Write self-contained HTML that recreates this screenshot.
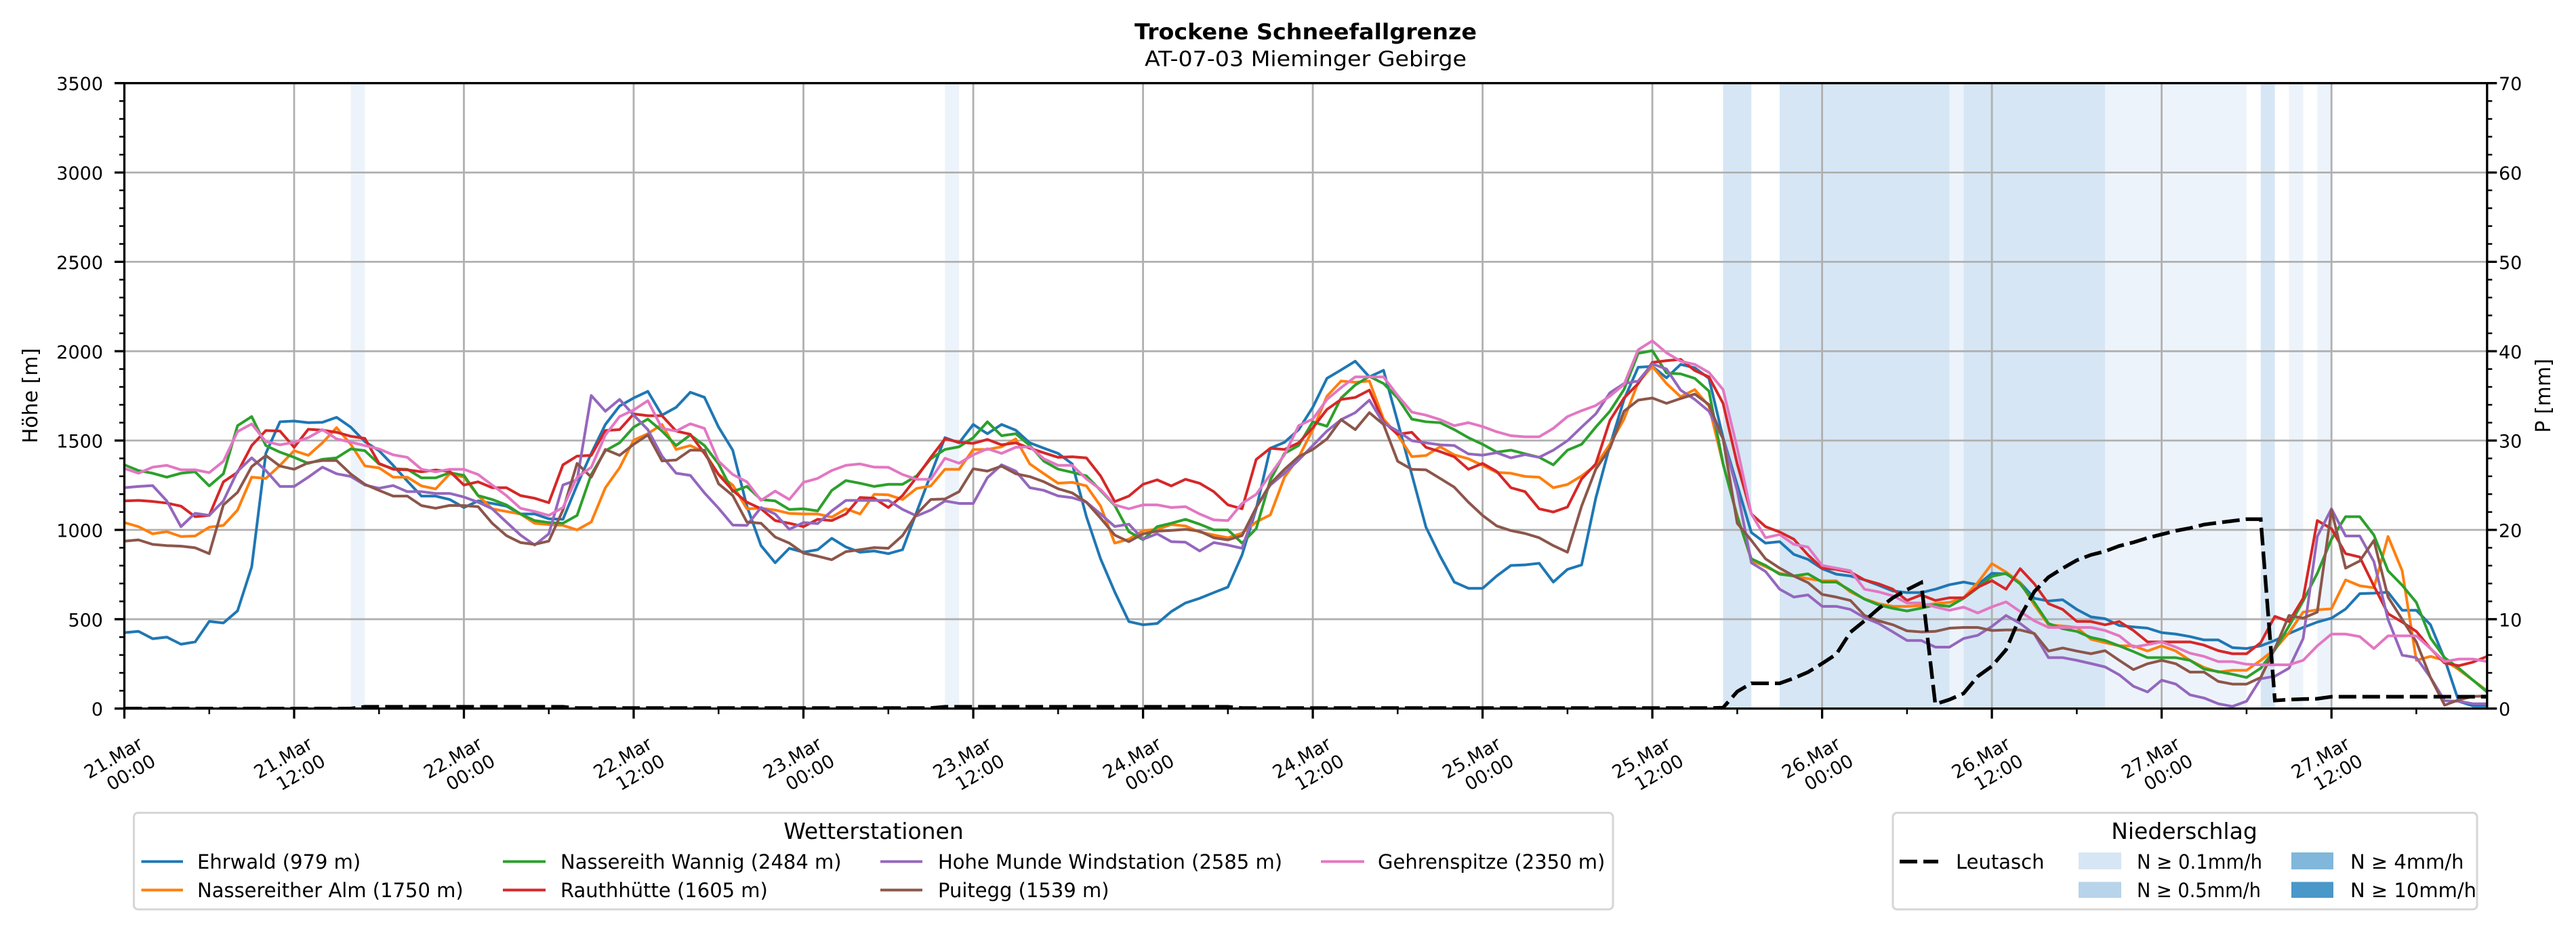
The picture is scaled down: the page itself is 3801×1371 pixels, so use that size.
<!DOCTYPE html>
<html><head><meta charset="utf-8"><style>
html,body{margin:0;padding:0;background:#fff;}
svg{display:block;font-family:"DejaVu Sans","Liberation Sans",sans-serif;}
</style></head><body>
<svg width="3801" height="1371" viewBox="0 0 3801 1371" xmlns="http://www.w3.org/2000/svg">
<rect x="0" y="0" width="3801" height="1371" fill="#fff"/>
<defs><clipPath id="cp"><rect x="183.5" y="122.7" width="3486.3" height="923"/></clipPath></defs>

<!-- precipitation bands -->
<g fill="#edf3fb">
<rect x="517.5" y="122.7" width="20.9" height="923"/>
<rect x="1394.3" y="122.7" width="20.9" height="923"/>
<rect x="2876.5" y="122.7" width="20.9" height="923"/>
<rect x="3106.1" y="122.7" width="208.8" height="923"/>
<rect x="3377.5" y="122.7" width="20.9" height="923"/>
<rect x="3419.3" y="122.7" width="20.9" height="923"/>
</g>
<g fill="#d6e6f4">
<rect x="2542.5" y="122.7" width="41.7" height="923"/>
<rect x="2626.0" y="122.7" width="250.5" height="923"/>
<rect x="2897.4" y="122.7" width="208.7" height="923"/>
<rect x="3335.8" y="122.7" width="20.9" height="923"/>
</g>

<!-- grid -->
<g stroke="#b0b0b0" stroke-width="2.8" fill="none">
<path d="M183.5 913.8H3669.8M183.5 782.0H3669.8M183.5 650.1H3669.8M183.5 518.3H3669.8M183.5 386.4H3669.8M183.5 254.6H3669.8"/>
<path d="M434.0 122.7V1045.7M684.5 122.7V1045.7M935.0 122.7V1045.7M1185.5 122.7V1045.7M1436.1 122.7V1045.7M1686.6 122.7V1045.7M1937.1 122.7V1045.7M2187.6 122.7V1045.7M2438.1 122.7V1045.7M2688.6 122.7V1045.7M2939.1 122.7V1045.7M3189.6 122.7V1045.7M3440.2 122.7V1045.7"/>
</g>

<!-- series -->
<g clip-path="url(#cp)">
<g transform="translate(183.5,1045.7) scale(20.876,-0.263714)" fill="none" stroke-width="4" stroke-linejoin="round" stroke-linecap="square">
<polyline vector-effect="non-scaling-stroke" stroke="#1f77b4" points="0,425 1,432 2,391 3,400 4,360 5,373 6,488 7,479 8,547 9,793 10,1428 11,1605 12,1609 13,1600 14,1602 15,1630 16,1575 17,1494 18,1443 19,1361 20,1273 21,1189 22,1189 23,1170 24,1125 25,1162 26,1148 27,1133 28,1089 29,1089 30,1062 31,1059 32,1251 33,1428 34,1590 35,1693 36,1738 37,1775 38,1642 39,1686 40,1770 41,1742 42,1575 43,1446 44,1133 45,912 46,816 47,897 48,875 49,889 50,953 51,904 52,875 53,882 54,867 55,889 56,1100 57,1310 58,1516 59,1487 60,1590 61,1538 62,1590 63,1558 64,1487 65,1457 66,1428 67,1369 68,1074 69,838 70,653 71,487 72,469 73,476 74,543 75,591 76,617 77,649 78,680 79,860 80,1118 81,1457 82,1490 83,1561 84,1686 85,1848 86,1895 87,1944 88,1856 89,1893 90,1605 91,1310 92,1015 93,853 94,708 95,673 96,673 97,742 98,801 99,804 100,813 101,708 102,779 103,804 104,1177 105,1472 106,1730 107,1910 108,1915 109,1851 110,1926 111,1907 112,1848 113,1516 114,1251 115,985 116,926 117,934 118,863 119,835 120,783 121,752 122,742 123,720 124,690 125,658 126,649 127,649 128,668 129,693 130,708 131,693 132,757 133,754 134,705 135,617 136,602 137,609 138,555 139,513 140,503 141,465 142,457 143,450 144,425 145,417 146,403 147,384 148,384 149,341 150,336 151,351 152,381 153,420 154,454 155,484 156,506 157,557 158,643 159,646 160,651 161,550 162,550 163,469 164,277 165,40 166,15 167,15"/>
<polyline vector-effect="non-scaling-stroke" stroke="#ff7f0e" points="0,1041 1,1018 2,978 3,990 4,963 5,966 6,1015 7,1025 8,1111 9,1295 10,1288 11,1361 12,1443 13,1417 14,1487 15,1572 16,1479 17,1358 18,1347 19,1295 20,1295 21,1246 22,1229 23,1314 24,1295 25,1192 26,1118 27,1103 28,1089 29,1037 30,1030 31,1025 32,1000 33,1044 34,1236 35,1347 36,1502 37,1538 38,1590 39,1450 40,1472 41,1435 42,1310 43,1251 44,1118 45,1121 46,1111 47,1092 48,1089 49,1089 50,1071 51,1118 52,1089 53,1199 54,1196 55,1170 56,1232 57,1246 58,1339 59,1339 60,1450 61,1450 62,1465 63,1509 64,1369 65,1314 66,1261 67,1266 68,1246 69,1133 70,926 71,948 72,996 73,1003 74,1030 75,1022 76,988 77,971 78,956 79,982 80,1044 81,1084 82,1295 83,1406 84,1561 85,1748 86,1833 87,1826 88,1833 89,1620 90,1531 91,1410 92,1416 93,1465 94,1420 95,1398 96,1361 97,1322 98,1317 99,1299 100,1295 101,1236 102,1254 103,1302 104,1361 105,1479 106,1620 107,1826 108,1915 109,1819 110,1745 111,1785 112,1693 113,1369 114,1080 115,830 116,794 117,757 118,742 119,727 120,715 121,715 122,653 123,614 124,587 125,572 126,572 127,577 128,587 129,594 130,620 131,705 132,811 133,764 134,705 135,580 136,469 137,462 138,454 139,388 140,369 141,351 142,351 143,322 144,351 145,322 146,270 147,230 148,204 149,214 150,214 151,270 152,332 153,425 154,540 155,553 156,558 157,720 158,687 159,676 160,963 161,771 162,270 163,292 164,270 165,218 166,159 167,100"/>
<polyline vector-effect="non-scaling-stroke" stroke="#2ca02c" points="0,1364 1,1332 2,1317 3,1295 4,1317 5,1325 6,1246 7,1314 8,1583 9,1634 10,1472 11,1435 12,1406 13,1372 14,1395 15,1403 16,1453 17,1443 18,1369 19,1342 20,1339 21,1291 22,1291 23,1320 24,1305 25,1192 26,1170 27,1140 28,1089 29,1052 30,1041 31,1037 32,1081 33,1310 34,1443 35,1487 36,1575 37,1620 38,1553 39,1472 40,1531 41,1472 42,1369 43,1214 44,1243 45,1170 46,1162 47,1114 48,1118 49,1106 50,1221 51,1276 52,1261 53,1243 54,1255 55,1255 56,1302 57,1398 58,1450 59,1465 60,1516 61,1605 62,1527 63,1538 64,1472 65,1384 66,1340 67,1322 68,1302 69,1221 70,1137 71,990 72,945 73,1018 74,1037 75,1059 76,1032 77,1000 78,1000 79,926 80,1007 81,1280 82,1428 83,1472 84,1605 85,1580 86,1738 87,1811 88,1859 89,1819 90,1738 91,1620 92,1605 93,1600 94,1561 95,1516 96,1479 97,1435 98,1446 99,1426 100,1406 101,1364 102,1446 103,1479 104,1575 105,1664 106,1786 107,1988 108,2003 109,1878 110,1873 111,1848 112,1777 113,1369 114,1074 115,838 116,801 117,752 118,742 119,754 120,708 121,708 122,661 123,612 124,580 125,561 126,546 127,562 128,580 129,572 130,617 131,676 132,740 133,757 134,698 135,594 136,476 137,447 138,432 139,398 140,381 141,351 142,319 143,285 144,285 145,285 146,270 147,221 148,207 149,192 150,174 151,226 152,329 153,462 154,602 155,757 156,948 157,1074 158,1074 159,971 160,771 161,690 162,594 163,395 164,285 165,226 166,159 167,93"/>
<polyline vector-effect="non-scaling-stroke" stroke="#d62728" points="0,1162 1,1165 2,1159 3,1150 4,1133 5,1074 6,1081 7,1269 8,1322 9,1472 10,1556 11,1553 12,1462 13,1563 14,1558 15,1546 16,1524 17,1512 18,1372 19,1339 20,1336 21,1325 22,1335 23,1327 24,1251 25,1269 26,1236 27,1236 28,1192 29,1177 30,1152 31,1364 32,1413 33,1417 34,1556 35,1561 36,1649 37,1639 38,1639 39,1553 40,1535 41,1428 42,1310 43,1221 44,1155 45,1118 46,1052 47,1037 48,1018 49,1059 50,1052 51,1089 52,1181 53,1177 54,1125 55,1192 56,1295 57,1406 58,1509 59,1491 60,1484 61,1506 62,1476 63,1487 64,1457 65,1431 66,1406 67,1409 68,1403 69,1302 70,1158 71,1189 72,1255 73,1280 74,1246 75,1283 76,1261 77,1214 78,1140 79,1118 80,1394 81,1457 82,1450 83,1487 84,1571 85,1674 86,1730 87,1741 88,1782 89,1605 90,1535 91,1546 92,1462 93,1438 94,1409 95,1339 96,1372 97,1327 98,1236 99,1214 100,1118 101,1100 102,1128 103,1285 104,1369 105,1612 106,1738 107,1819 108,1937 109,1947 110,1954 111,1892 112,1856 113,1708 114,1369 115,1089 116,1018 117,988 118,948 119,860 120,786 121,779 122,764 123,720 124,698 125,668 126,605 127,636 128,605 129,620 130,620 131,679 132,716 133,668 134,783 135,698 136,587 137,555 138,488 139,487 140,469 141,487 142,437 143,373 144,373 145,373 146,373 147,355 148,324 149,307 150,307 151,369 152,516 153,487 154,617 155,1052 156,1007 157,867 158,848 159,686 160,531 161,484 162,432 163,336 164,255 165,240 166,260 167,292"/>
<polyline vector-effect="non-scaling-stroke" stroke="#9467bd" points="0,1236 1,1243 2,1248 3,1162 4,1018 5,1093 6,1081 7,1162 8,1328 9,1403 10,1332 11,1243 12,1243 13,1295 14,1351 15,1314 16,1299 17,1251 18,1233 19,1248 20,1214 21,1214 22,1204 23,1204 24,1184 25,1155 26,1118 27,1044 28,971 29,915 30,978 31,1251 32,1280 33,1752 34,1664 35,1730 36,1642 37,1561 38,1413 39,1317 40,1305 41,1207 42,1121 43,1027 44,1025 45,1125 46,1089 47,1003 48,1041 49,1035 50,1106 51,1165 52,1165 53,1165 54,1165 55,1115 56,1078 57,1111 58,1162 59,1148 60,1148 61,1292 62,1364 63,1329 64,1236 65,1221 66,1190 67,1180 68,1155 69,1089 70,1019 71,1032 72,948 73,978 74,934 75,931 76,882 77,929 78,915 79,897 80,1125 81,1251 82,1317 83,1391 84,1472 85,1553 86,1617 87,1656 88,1726 89,1597 90,1553 91,1499 92,1487 93,1476 94,1472 95,1425 96,1418 97,1432 98,1403 99,1421 100,1406 101,1446 102,1499 103,1575 104,1649 105,1767 106,1819 107,1833 108,1929 109,1900 110,1782 111,1730 112,1664 113,1509 114,1221 115,816 116,767 117,668 118,624 119,636 120,572 121,572 122,555 123,509 124,476 125,429 126,381 127,381 128,344 129,344 130,392 131,410 132,460 133,521 134,476 135,417 136,285 137,285 138,270 139,252 140,233 141,189 142,125 143,93 144,159 145,137 146,77 147,59 148,27 149,12 150,41 151,167 152,181 153,226 154,392 155,963 156,1118 157,966 158,966 159,823 160,499 161,299 162,285 163,174 164,44 165,41 166,27 167,27"/>
<polyline vector-effect="non-scaling-stroke" stroke="#8c564b" points="0,937 1,944 2,919 3,912 4,909 5,900 6,867 7,1140 8,1210 9,1354 10,1416 11,1357 12,1339 13,1376 14,1388 15,1388 16,1313 17,1255 18,1221 19,1189 20,1189 21,1136 22,1121 23,1137 24,1136 25,1130 26,1037 27,968 28,929 29,919 30,937 31,1111 32,1372 33,1295 34,1450 35,1417 36,1479 37,1531 38,1386 39,1391 40,1446 41,1446 42,1258 43,1192 44,1044 45,1037 46,960 47,926 48,870 49,853 50,833 51,878 52,889 53,901 54,897 55,968 56,1089 57,1170 58,1173 59,1214 60,1342 61,1329 62,1357 63,1314 64,1298 65,1269 66,1230 67,1207 68,1155 69,1066 70,971 71,934 72,978 73,993 74,997 75,1003 76,993 77,956 78,944 79,968 80,1125 81,1258 82,1339 83,1410 84,1450 85,1509 86,1617 87,1561 88,1656 89,1590 90,1384 91,1339 92,1336 93,1288 94,1239 95,1155 96,1081 97,1022 98,996 99,980 100,956 101,912 102,875 103,1133 104,1339 105,1457 106,1664 107,1726 108,1738 109,1708 110,1735 111,1760 112,1701 113,1509 114,1037 115,941 116,838 117,786 118,742 119,705 120,639 121,624 122,605 123,521 124,491 125,469 126,435 127,429 128,432 129,450 130,454 131,454 132,437 133,440 134,440 135,420 136,322 137,339 138,322 139,307 140,324 141,270 142,218 143,251 144,270 145,251 146,204 147,204 148,152 149,137 150,137 151,174 152,336 153,521 154,506 155,540 156,1111 157,786 158,826 159,941 160,624 161,499 162,373 163,174 164,19 165,49 166,68 167,71"/>
<polyline vector-effect="non-scaling-stroke" stroke="#e377c2" points="0,1344 1,1317 2,1351 3,1361 4,1336 5,1336 6,1320 7,1384 8,1550 9,1593 10,1494 11,1476 12,1490 13,1516 14,1561 15,1509 16,1491 17,1472 18,1453 19,1420 20,1406 21,1339 22,1325 23,1339 24,1339 25,1310 26,1251 27,1192 28,1121 29,1103 30,1081 31,1125 32,1295 33,1350 34,1531 35,1634 36,1671 37,1723 38,1568 39,1553 40,1594 41,1568 42,1384 43,1310 44,1269 45,1165 46,1217 47,1170 48,1266 49,1288 50,1332 51,1361 52,1369 53,1351 54,1350 55,1310 56,1283 57,1283 58,1401 59,1373 60,1420 61,1454 62,1428 63,1462 64,1465 65,1398 66,1361 67,1361 68,1285 69,1226 70,1140 71,1118 72,1140 73,1140 74,1125 75,1130 76,1089 77,1056 78,1052 79,1148 80,1199 81,1310 82,1420 83,1583 84,1620 85,1730 86,1796 87,1856 88,1856 89,1856 90,1752 91,1659 92,1642 93,1617 94,1583 95,1600 96,1578 97,1549 98,1527 99,1521 100,1521 101,1568 102,1634 103,1667 104,1696 105,1748 106,1814 107,2008 108,2058 109,1991 110,1944 111,1926 112,1881 113,1785 114,1457 115,1089 116,956 117,974 118,919 119,904 120,801 121,786 122,771 123,668 124,653 125,631 126,591 127,591 128,569 129,550 130,568 131,535 132,569 133,597 134,543 135,491 136,454 137,454 138,454 139,454 140,437 141,407 142,344 143,358 144,373 145,344 146,310 147,292 148,263 149,263 150,248 151,245 152,245 153,245 154,270 155,351 156,417 157,417 158,403 159,336 160,407 161,407 162,407 163,336 164,263 165,277 166,277 167,263"/>
</g>
<!-- Leutasch -->
<polyline fill="none" stroke="#000" stroke-width="5.4" stroke-dasharray="26 9" points="183.5,1045.7 517.5,1045.7 538.4,1043.1 830.7,1043.1 851.5,1045.0 1373.4,1045.0 1394.3,1043.1 1811.8,1043.1 1832.7,1045.0 2521.6,1045.0 2542.5,1044.4 2563.4,1020.6 2584.2,1008.4 2626.0,1008.4 2646.9,1000.9 2667.7,992.0 2688.6,979.2 2709.5,965.5 2730.4,933.0 2751.2,916.2 2772.1,898.0 2793.0,882.2 2813.9,870.3 2834.8,859.8 2855.6,1039.1 2876.5,1032.5 2897.4,1023.3 2918.3,998.2 2939.1,983.1 2960.0,958.9 2980.9,909.9 3001.8,873.0 3022.6,851.9 3043.5,838.7 3064.4,826.8 3085.3,818.9 3106.1,813.6 3127.0,805.7 3147.9,800.4 3168.8,793.9 3189.6,788.6 3210.5,783.3 3231.4,779.4 3252.3,774.1 3273.1,771.4 3294.0,768.8 3314.9,766.2 3335.8,766.2 3356.7,1033.8 3377.5,1032.5 3398.4,1031.7 3419.3,1031.2 3440.2,1028.2 3669.8,1028.2"/>
</g>

<!-- spines -->
<rect x="183.5" y="122.7" width="3486.3" height="923" fill="none" stroke="#000" stroke-width="3.3"/>

<!-- ticks -->
<g stroke="#000" fill="none">
<path stroke-width="3.3" d="M169 1045.7H183.5M169 913.8H183.5M169 782.0H183.5M169 650.1H183.5M169 518.3H183.5M169 386.4H183.5M169 254.6H183.5M169 122.7H183.5"/>
<path stroke-width="2.5" d="M176 1019.33H183.5M176 992.96H183.5M176 966.59H183.5M176 940.21H183.5M176 887.47H183.5M176 861.10H183.5M176 834.73H183.5M176 808.36H183.5M176 755.61H183.5M176 729.24H183.5M176 702.87H183.5M176 676.50H183.5M176 623.76H183.5M176 597.39H183.5M176 571.01H183.5M176 544.64H183.5M176 491.90H183.5M176 465.53H183.5M176 439.16H183.5M176 412.79H183.5M176 360.04H183.5M176 333.67H183.5M176 307.30H183.5M176 280.93H183.5M176 228.19H183.5M176 201.81H183.5M176 175.44H183.5M176 149.07H183.5"/>
<path stroke-width="3.3" d="M3669.8 1045.7H3684.3M3669.8 913.8H3684.3M3669.8 782.0H3684.3M3669.8 650.1H3684.3M3669.8 518.3H3684.3M3669.8 386.4H3684.3M3669.8 254.6H3684.3M3669.8 122.7H3684.3"/>
<path stroke-width="2.5" d="M3669.8 1019.33H3677.3M3669.8 992.96H3677.3M3669.8 966.59H3677.3M3669.8 940.21H3677.3M3669.8 887.47H3677.3M3669.8 861.10H3677.3M3669.8 834.73H3677.3M3669.8 808.36H3677.3M3669.8 755.61H3677.3M3669.8 729.24H3677.3M3669.8 702.87H3677.3M3669.8 676.50H3677.3M3669.8 623.76H3677.3M3669.8 597.39H3677.3M3669.8 571.01H3677.3M3669.8 544.64H3677.3M3669.8 491.90H3677.3M3669.8 465.53H3677.3M3669.8 439.16H3677.3M3669.8 412.79H3677.3M3669.8 360.04H3677.3M3669.8 333.67H3677.3M3669.8 307.30H3677.3M3669.8 280.93H3677.3M3669.8 228.19H3677.3M3669.8 201.81H3677.3M3669.8 175.44H3677.3M3669.8 149.07H3677.3"/>
<path stroke-width="3.3" d="M183.5 1045.7V1060.5M434.0 1045.7V1060.5M684.5 1045.7V1060.5M935.0 1045.7V1060.5M1185.5 1045.7V1060.5M1436.1 1045.7V1060.5M1686.6 1045.7V1060.5M1937.1 1045.7V1060.5M2187.6 1045.7V1060.5M2438.1 1045.7V1060.5M2688.6 1045.7V1060.5M2939.1 1045.7V1060.5M3189.6 1045.7V1060.5M3440.2 1045.7V1060.5"/>
<path stroke-width="2.5" d="M308.8 1045.7V1054M559.3 1045.7V1054M809.8 1045.7V1054M1060.3 1045.7V1054M1310.8 1045.7V1054M1561.3 1045.7V1054M1811.8 1045.7V1054M2062.3 1045.7V1054M2312.9 1045.7V1054M2563.4 1045.7V1054M2813.9 1045.7V1054M3064.4 1045.7V1054M3314.9 1045.7V1054M3565.4 1045.7V1054"/>
</g>

<!-- y tick labels -->
<g font-size="27" fill="#000" text-anchor="end">
<text x="152" y="1056.2">0</text>
<text x="152" y="924.3">500</text>
<text x="152" y="792.5">1000</text>
<text x="152" y="660.6">1500</text>
<text x="152" y="528.8">2000</text>
<text x="152" y="396.9">2500</text>
<text x="152" y="265.1">3000</text>
<text x="152" y="133.2">3500</text>
</g>
<g font-size="27" fill="#000" text-anchor="start">
<text x="3687" y="1056.2">0</text>
<text x="3687" y="924.3">10</text>
<text x="3687" y="792.5">20</text>
<text x="3687" y="660.6">30</text>
<text x="3687" y="528.8">40</text>
<text x="3687" y="396.9">50</text>
<text x="3687" y="265.1">60</text>
<text x="3687" y="133.2">70</text>
</g>

<!-- x tick labels -->
<g font-size="27" fill="#000" text-anchor="middle">
<text transform="translate(167.0,1118) rotate(-30)" y="9.8">21.Mar</text><text transform="translate(193.0,1139.5) rotate(-30)" y="9.8">00:00</text>
<text transform="translate(417.5,1118) rotate(-30)" y="9.8">21.Mar</text><text transform="translate(443.5,1139.5) rotate(-30)" y="9.8">12:00</text>
<text transform="translate(668.0,1118) rotate(-30)" y="9.8">22.Mar</text><text transform="translate(694.0,1139.5) rotate(-30)" y="9.8">00:00</text>
<text transform="translate(918.5,1118) rotate(-30)" y="9.8">22.Mar</text><text transform="translate(944.5,1139.5) rotate(-30)" y="9.8">12:00</text>
<text transform="translate(1169.0,1118) rotate(-30)" y="9.8">23.Mar</text><text transform="translate(1195.0,1139.5) rotate(-30)" y="9.8">00:00</text>
<text transform="translate(1419.6,1118) rotate(-30)" y="9.8">23.Mar</text><text transform="translate(1445.6,1139.5) rotate(-30)" y="9.8">12:00</text>
<text transform="translate(1670.1,1118) rotate(-30)" y="9.8">24.Mar</text><text transform="translate(1696.1,1139.5) rotate(-30)" y="9.8">00:00</text>
<text transform="translate(1920.6,1118) rotate(-30)" y="9.8">24.Mar</text><text transform="translate(1946.6,1139.5) rotate(-30)" y="9.8">12:00</text>
<text transform="translate(2171.1,1118) rotate(-30)" y="9.8">25.Mar</text><text transform="translate(2197.1,1139.5) rotate(-30)" y="9.8">00:00</text>
<text transform="translate(2421.6,1118) rotate(-30)" y="9.8">25.Mar</text><text transform="translate(2447.6,1139.5) rotate(-30)" y="9.8">12:00</text>
<text transform="translate(2672.1,1118) rotate(-30)" y="9.8">26.Mar</text><text transform="translate(2698.1,1139.5) rotate(-30)" y="9.8">00:00</text>
<text transform="translate(2922.6,1118) rotate(-30)" y="9.8">26.Mar</text><text transform="translate(2948.6,1139.5) rotate(-30)" y="9.8">12:00</text>
<text transform="translate(3173.1,1118) rotate(-30)" y="9.8">27.Mar</text><text transform="translate(3199.1,1139.5) rotate(-30)" y="9.8">00:00</text>
<text transform="translate(3423.7,1118) rotate(-30)" y="9.8">27.Mar</text><text transform="translate(3449.7,1139.5) rotate(-30)" y="9.8">12:00</text>
</g>

<!-- axis labels -->
<text transform="translate(44,584) rotate(-90)" y="10.8" font-size="30" text-anchor="middle" fill="#000">Höhe [m]</text>
<text transform="translate(3752,584) rotate(-90)" y="10.8" font-size="30" text-anchor="middle" fill="#000">P [mm]</text>

<!-- titles -->
<text x="1926.5" y="58" font-size="32" font-weight="bold" text-anchor="middle" textLength="505" lengthAdjust="spacingAndGlyphs" fill="#000">Trockene Schneefallgrenze</text>
<text x="1926.5" y="97.5" font-size="31.5" text-anchor="middle" textLength="475" lengthAdjust="spacingAndGlyphs" fill="#000">AT-07-03 Mieminger Gebirge</text>

<!-- legend 1 -->
<rect x="197.5" y="1199.5" width="2182.5" height="142.5" rx="6" fill="#fff" stroke="#d6d6d6" stroke-width="3"/>
<text x="1289" y="1238" font-size="33" text-anchor="middle" fill="#000">Wetterstationen</text>
<g stroke-width="4" fill="none">
<path stroke="#1f77b4" d="M208.5 1271.5H270"/>
<path stroke="#ff7f0e" d="M208.5 1313.5H270"/>
<path stroke="#2ca02c" d="M742 1271.5H805"/>
<path stroke="#d62728" d="M742 1313.5H805"/>
<path stroke="#9467bd" d="M1299 1271.5H1361"/>
<path stroke="#8c564b" d="M1299 1313.5H1361"/>
<path stroke="#e377c2" d="M1949 1271.5H2013"/>
</g>
<g font-size="29" fill="#000">
<text x="291" y="1282">Ehrwald (979 m)</text>
<text x="291" y="1324">Nassereither Alm (1750 m)</text>
<text x="827" y="1282">Nassereith Wannig (2484 m)</text>
<text x="827" y="1324">Rauthhütte (1605 m)</text>
<text x="1384" y="1282">Hohe Munde Windstation (2585 m)</text>
<text x="1384" y="1324">Puitegg (1539 m)</text>
<text x="2033" y="1282">Gehrenspitze (2350 m)</text>
</g>

<!-- legend 2 -->
<rect x="2793" y="1199.5" width="862" height="142.5" rx="6" fill="#fff" stroke="#d6d6d6" stroke-width="3"/>
<text x="3223" y="1238" font-size="33" text-anchor="middle" fill="#000">Niederschlag</text>
<path d="M2803 1271.5H2860" stroke="#000" stroke-width="5.4" stroke-dasharray="26 9" fill="none"/>
<rect x="3067" y="1258" width="63" height="25" fill="#d7e6f4"/>
<rect x="3067" y="1301.5" width="63" height="23.5" fill="#b7d4ea"/>
<rect x="3381" y="1258" width="62" height="25" fill="#80b7da"/>
<rect x="3381" y="1301.5" width="62" height="23.5" fill="#4a97c9"/>
<g font-size="29" fill="#000">
<text x="2886" y="1282">Leutasch</text>
<text x="3153" y="1282" textLength="185" lengthAdjust="spacingAndGlyphs">N ≥ 0.1mm/h</text>
<text x="3153" y="1324" textLength="183" lengthAdjust="spacingAndGlyphs">N ≥ 0.5mm/h</text>
<text x="3468" y="1282">N ≥ 4mm/h</text>
<text x="3468" y="1324">N ≥ 10mm/h</text>
</g>
</svg>
</body></html>
